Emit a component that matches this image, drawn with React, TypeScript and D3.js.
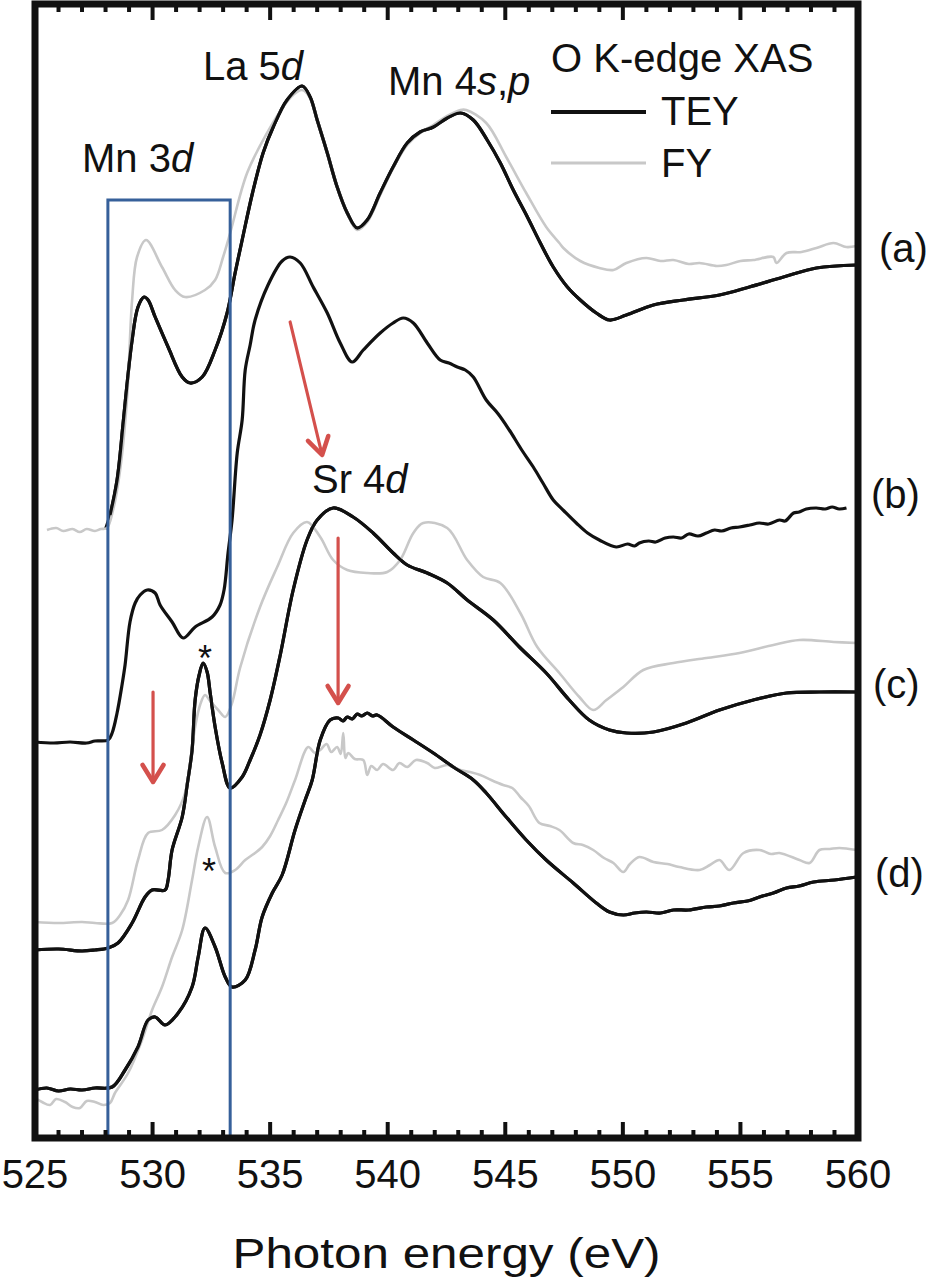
import React from "react";
import * as d3 from "d3";

// ---- Data: photon energy (eV) vs. offset intensity (arb. units) ----
const aTEY: [number, number][] = [
  [528.0, 6.09], [528.19, 6.23], [528.49, 6.58],
  [528.74, 7.13], [528.91, 7.53], [529.13, 7.98], [529.38, 8.31], [529.64, 8.41], [529.81, 8.38], [530.11, 8.21],
  [530.66, 7.91], [531.26, 7.61], [531.6, 7.55], [532.11, 7.61], [532.66, 7.88], [533.17, 8.25], [533.51, 8.65],
  [533.81, 8.98], [534.25, 9.45], [534.7, 9.85], [535.13, 10.11], [535.72, 10.38], [536.36, 10.52], [536.7, 10.41],
  [537.0, 10.18], [537.43, 9.85], [537.85, 9.51], [538.28, 9.25], [538.7, 9.1], [539.13, 9.18], [539.68, 9.45],
  [540.23, 9.71], [540.83, 9.95], [541.38, 10.06], [541.94, 10.11], [542.53, 10.2], [543.09, 10.25], [543.64, 10.18],
  [544.23, 9.98], [544.79, 9.75], [545.34, 9.48], [545.94, 9.21], [546.49, 8.95], [547.04, 8.71], [547.64, 8.51],
  [548.19, 8.38], [548.87, 8.25], [549.43, 8.18], [550.15, 8.23], [551.3, 8.33], [552.57, 8.38], [554.11, 8.43],
  [555.38, 8.51], [556.83, 8.61], [558.23, 8.7], [559.94, 8.73],
];
const aFY: [number, number][] = [
  [525.51, 6.08], [525.9, 6.1], [526.2, 6.07], [526.6, 6.09], [526.9, 6.06], [527.2, 6.09], [527.55, 6.07],
  [527.8, 6.09], [528.06, 6.1], [528.32, 6.28], [528.62, 6.68],
  [528.91, 7.38], [529.13, 8.38], [529.34, 8.81], [529.72, 8.98], [530.4, 8.71], [530.96, 8.48], [531.38, 8.41],
  [532.23, 8.48], [532.66, 8.58], [533.0, 8.81], [533.3, 9.05], [534.02, 9.65], [534.87, 10.05], [535.55, 10.31],
  [535.98, 10.43], [536.36, 10.48], [536.7, 10.4], [537.0, 10.18], [537.43, 9.85], [537.85, 9.51], [538.28, 9.25],
  [538.7, 9.08], [539.13, 9.16], [539.68, 9.43], [540.23, 9.7], [540.83, 9.93], [541.38, 10.05], [541.94, 10.13],
  [542.53, 10.22], [543.09, 10.28], [543.34, 10.28], [544.19, 10.15], [545.04, 9.81], [545.89, 9.45], [546.74, 9.11],
  [547.3, 8.95], [547.47, 8.9], [548.19, 8.77], [549.0, 8.7], [549.6, 8.68], [550.15, 8.75], [551.0, 8.8],
  [551.6, 8.77], [552.15, 8.78], [552.8, 8.74], [553.26, 8.75], [554.0, 8.72], [554.4, 8.73], [555.0, 8.77],
  [555.55, 8.78], [556.4, 8.81], [556.53, 8.75], [556.96, 8.85], [557.6, 8.86], [558.23, 8.9], [558.96, 8.95],
  [559.5, 8.91], [559.94, 8.92],
];
const bTEY: [number, number][] = [
  [525.0, 3.96], [525.8, 3.95], [526.49, 3.96], [527.2, 3.95], [527.55, 3.97], [528.11, 3.98], [528.28, 4.05],
  [528.49, 4.25], [528.7, 4.53], [528.83, 4.73], [529.04, 5.16], [529.26, 5.35], [529.47, 5.43], [529.77, 5.48],
  [530.11, 5.45], [530.32, 5.33], [530.83, 5.16], [531.3, 5.0], [531.81, 5.11], [532.53, 5.21], [532.87, 5.33],
  [533.04, 5.48], [533.21, 5.85], [533.38, 6.18], [533.6, 6.85], [533.81, 7.18], [533.94, 7.68], [534.15, 7.93],
  [534.36, 8.18], [534.91, 8.53], [535.51, 8.77], [535.85, 8.81], [536.28, 8.75], [536.83, 8.51], [537.43, 8.25],
  [537.98, 7.95], [538.49, 7.76], [538.96, 7.88], [539.68, 8.05], [540.23, 8.15], [540.66, 8.2], [541.09, 8.15],
  [541.68, 7.95], [542.23, 7.78], [542.6, 7.75], [542.96, 7.71], [543.3, 7.68], [543.64, 7.61], [544.19, 7.38],
  [544.7, 7.24], [545.17, 7.08], [545.7, 6.88], [546.19, 6.71], [546.6, 6.55], [547.04, 6.38], [547.5, 6.27],
  [548.02, 6.15], [548.5, 6.05], [549.0, 5.98], [549.72, 5.91], [550.2, 5.94], [550.5, 5.92], [550.7, 5.95],
  [551.1, 5.97], [551.4, 5.96], [551.8, 6.0], [552.15, 6.01], [552.5, 6.0], [552.8, 6.04], [553.2, 6.02],
  [553.55, 6.05], [553.9, 6.08], [554.2, 6.07], [554.6, 6.1], [554.96, 6.11], [555.4, 6.13], [555.8, 6.15],
  [556.2, 6.14], [556.66, 6.18], [556.9, 6.17], [557.26, 6.25], [557.5, 6.26], [557.8, 6.29], [558.23, 6.3],
  [558.6, 6.29], [558.9, 6.31], [559.2, 6.29], [559.51, 6.3],
];
const cTEY: [number, number][] = [
  [525.0, 1.88], [526.0, 1.89], [527.0, 1.87], [527.55, 1.88], [528.11, 1.9], [528.53, 1.95], [529.13, 2.15],
  [529.68, 2.41], [529.98, 2.48], [530.53, 2.48], [530.66, 2.58], [530.83, 2.88], [531.26, 3.21], [531.47, 3.53],
  [531.68, 3.88], [531.81, 4.38], [531.98, 4.63], [532.15, 4.75], [532.32, 4.66], [532.45, 4.45], [532.66, 4.11],
  [532.96, 3.75], [533.3, 3.5], [533.81, 3.61], [534.15, 3.78], [534.57, 4.03], [535.0, 4.38], [535.43, 4.83],
  [535.98, 5.48], [536.57, 5.98], [537.0, 6.18], [537.68, 6.3], [538.53, 6.21], [539.38, 6.05], [540.23, 5.85],
  [540.83, 5.73], [541.68, 5.65], [542.53, 5.55], [543.38, 5.38], [544.49, 5.18], [545.6, 4.91], [546.74, 4.65],
  [547.72, 4.38], [548.57, 4.18], [549.43, 4.08], [550.15, 4.05], [551.3, 4.06], [552.7, 4.15], [554.11, 4.28],
  [555.55, 4.38], [556.96, 4.45], [558.36, 4.46], [559.94, 4.46],
];
const cFY: [number, number][] = [
  [525.0, 2.16], [526.0, 2.15], [527.0, 2.16], [527.55, 2.15], [528.28, 2.15], [528.62, 2.23], [528.96, 2.38],
  [529.38, 2.78], [529.81, 3.05], [530.4, 3.08], [530.96, 3.23], [531.38, 3.45], [531.81, 4.11], [532.02, 4.33],
  [532.23, 4.43], [532.45, 4.37], [532.79, 4.28], [533.09, 4.21], [533.38, 4.35], [533.72, 4.7], [534.57, 5.31],
  [535.3, 5.71], [535.98, 6.05], [536.57, 6.16], [537.13, 6.01], [537.68, 5.78], [538.28, 5.68], [539.13, 5.65],
  [539.98, 5.66], [540.53, 5.78], [541.09, 6.05], [541.51, 6.15], [542.53, 6.1], [543.38, 5.78], [544.06, 5.61],
  [544.79, 5.55], [545.64, 5.25], [546.36, 4.91], [547.3, 4.65], [548.15, 4.41], [548.74, 4.28], [549.3, 4.38],
  [550.02, 4.51], [550.87, 4.68], [552.15, 4.75], [553.55, 4.8], [554.96, 4.85], [556.4, 4.93], [557.51, 4.98],
  [558.96, 4.96], [559.94, 4.95],
];
const dTEY: [number, number][] = [
  [525.0, 0.48], [525.5, 0.5], [526.0, 0.47], [526.5, 0.49], [527.0, 0.48], [527.55, 0.5], [528.28, 0.51],
  [528.83, 0.68], [529.38, 0.91], [529.81, 1.18], [530.11, 1.21], [530.53, 1.13], [531.09, 1.25], [531.68, 1.51],
  [531.94, 1.81], [532.23, 2.1], [532.66, 1.91], [533.09, 1.61], [533.38, 1.51], [533.94, 1.58], [534.36, 1.88],
  [534.66, 2.21], [535.09, 2.45], [535.51, 2.63], [536.06, 3.08], [536.49, 3.38], [536.79, 3.58], [537.13, 3.98],
  [537.55, 4.18], [537.9, 4.2], [538.1, 4.17], [538.28, 4.21], [538.5, 4.19], [538.7, 4.24], [538.9, 4.22],
  [539.13, 4.25], [539.35, 4.22], [539.55, 4.23], [540.23, 4.11],
  [541.09, 3.98], [541.94, 3.85], [542.79, 3.71], [543.64, 3.58], [544.19, 3.45], [545.04, 3.21], [545.89, 2.98],
  [546.74, 2.78], [547.89, 2.55], [548.87, 2.35], [549.43, 2.26], [550.02, 2.23], [550.5, 2.25], [551.0, 2.26],
  [551.6, 2.25], [552.15, 2.28], [552.8, 2.28], [553.55, 2.31], [554.1, 2.32], [554.7, 2.35], [555.3, 2.37],
  [555.81, 2.41], [556.4, 2.45], [556.96, 2.5], [557.5, 2.52], [558.11, 2.56], [559.0, 2.58], [559.94, 2.61],
];
const dFY: [number, number][] = [
  [525.0, 0.4], [525.3, 0.36], [525.64, 0.33], [525.9, 0.39], [526.28, 0.36], [526.6, 0.31], [526.91, 0.3],
  [527.2, 0.37], [527.55, 0.36], [527.9, 0.33], [528.19, 0.35], [528.4, 0.45], [528.96, 0.65], [529.55, 0.98],
  [529.98, 1.28], [530.4, 1.51], [530.83, 1.81], [531.26, 2.08], [531.68, 2.58], [531.94, 2.91], [532.32, 3.21],
  [532.66, 2.91], [533.09, 2.65], [533.51, 2.68], [533.94, 2.78], [534.3, 2.84], [534.66, 2.91], [535.0, 3.02],
  [535.34, 3.18], [535.7, 3.36], [536.06, 3.58], [536.62, 3.91], [536.9, 3.85], [537.13, 3.88], [537.4, 3.94],
  [537.6, 3.86], [537.85, 3.91], [538.0, 3.84], [538.11, 4.05], [538.2, 3.8], [538.32, 3.85], [538.6, 3.79],
  [538.96, 3.78], [539.13, 3.63], [539.3, 3.72], [539.55, 3.68], [539.8, 3.74], [540.23, 3.68], [540.5, 3.75],
  [540.83, 3.71], [541.2, 3.78], [541.68, 3.75], [542.0, 3.7], [542.53, 3.73], [543.09, 3.68], [543.5, 3.66],
  [543.94, 3.63], [544.4, 3.58], [544.91, 3.53], [545.3, 3.5], [545.64, 3.41], [546.0, 3.32], [546.45, 3.15],
  [546.9, 3.12], [547.3, 3.08], [547.89, 2.95], [548.3, 2.93], [548.74, 2.88], [549.2, 2.8], [549.6, 2.75],
  [550.02, 2.66], [550.3, 2.74], [550.7, 2.81], [551.3, 2.76], [551.9, 2.74], [552.4, 2.71], [553.26, 2.68],
  [553.7, 2.73], [554.11, 2.78], [554.53, 2.68], [555.13, 2.85], [555.81, 2.88], [556.3, 2.84], [556.66, 2.85],
  [557.51, 2.78], [557.94, 2.75], [558.36, 2.88], [558.8, 2.89], [559.21, 2.9], [559.94, 2.88],
];

const majorTicks = [525, 530, 535, 540, 545, 550, 555, 560];
const minorTicks = d3.range(525, 561, 1);

// Mn 3d box (energy range and top intensity)
const boxE: [number, number] = [528.1, 533.3];
const boxTop = 9.38;

// red arrows: [E1, I1, E2, I2]
const arrows: [number, number, number, number][] = [
  [535.85, 8.16, 537.21, 6.83],
  [537.89, 6.0, 537.89, 4.35],
  [530.02, 4.46, 530.02, 3.56],
];

const W = 932;
const H = 1280;
const FONT = "'Liberation Sans', Arial, Helvetica, sans-serif";

export default function App() {
  const x = d3.scaleLinear().domain([525, 560]).range([35, 858]);
  const y = d3.scaleLinear().domain([0, 11.34]).range([1138, 4]);
  const line = d3
    .line<[number, number]>()
    .x((d) => x(d[0]))
    .y((d) => y(d[1]))
    .curve(d3.curveCatmullRom.alpha(0.5));

  const gray = "#c8c8c8";
  const black = "#111";
  const red = "#d4504c";
  const blue = "#36609a";

  const y0 = y(0);
  const yTop = y(11.34);

  const arrowEls = arrows.map((a, i) => {
    const x1 = x(a[0]), y1 = y(a[1]), x2 = x(a[2]), y2 = y(a[3]);
    const ang = Math.atan2(y2 - y1, x2 - x1);
    const hl = 20, hw = 0.55;
    const p1 = [x2 - hl * Math.cos(ang - hw), y2 - hl * Math.sin(ang - hw)];
    const p2 = [x2 - hl * Math.cos(ang + hw), y2 - hl * Math.sin(ang + hw)];
    return (
      <g key={i} stroke={red} fill="none" strokeLinecap="round" strokeLinejoin="round">
        <line x1={x1} y1={y1} x2={x2} y2={y2} strokeWidth={3.2} />
        <polyline points={`${p1[0]},${p1[1]} ${x2},${y2} ${p2[0]},${p2[1]}`} strokeWidth={4.5} />
      </g>
    );
  });

  const textStyle = { fontFamily: FONT, fill: "#111" } as const;

  return (
    <svg
      width={W}
      height={H}
      viewBox={`0 0 ${W} ${H}`}
      style={{ position: "absolute", left: 0, top: 0, background: "#fff" }}
    >
      <rect x={0} y={0} width={W} height={H} fill="#fff" />

      {/* TEY curves (black) */}
      {[aTEY, bTEY, cTEY, dTEY].map((d, i) => (
        <path key={"tey" + i} d={line(d) || ""} fill="none" stroke={black} strokeWidth={3.2} strokeLinejoin="round" />
      ))}
      {/* FY curves (gray) */}
      {[cFY, dFY].map((d, i) => (
        <path key={"fy" + i} d={line(d) || ""} fill="none" stroke={gray} strokeWidth={2.6} strokeLinejoin="round" />
      ))}
      {/* (a) FY drawn before TEY visually where they coincide: redraw TEY over it */}
      <path d={line(aFY) || ""} fill="none" stroke={gray} strokeWidth={2.6} strokeLinejoin="round" />
      <path d={line(aTEY.slice(1)) || ""} fill="none" stroke={black} strokeWidth={3.2} strokeLinejoin="round" />
      {[cTEY, dTEY].map((d, i) => (
        <path key={"tey2" + i} d={line(d) || ""} fill="none" stroke={black} strokeWidth={3.2} strokeLinejoin="round" />
      ))}

      {/* Mn 3d box */}
      <rect
        x={x(boxE[0])}
        y={y(boxTop)}
        width={x(boxE[1]) - x(boxE[0])}
        height={y(0) - y(boxTop)}
        fill="none"
        stroke={blue}
        strokeWidth={3}
      />

      {arrowEls}

      {/* ticks top and bottom */}
      {minorTicks.map((t) => {
        const major = t % 5 === 0;
        const len = major ? 16 : 8;
        return (
          <g key={"t" + t} stroke={black} strokeWidth={4}>
            <line x1={x(t)} x2={x(t)} y1={y0} y2={y0 - len} />
            <line x1={x(t)} x2={x(t)} y1={yTop} y2={yTop + len} />
          </g>
        );
      })}

      {/* frame */}
      <rect x={x(525)} y={yTop} width={x(560) - x(525)} height={y0 - yTop} fill="none" stroke={black} strokeWidth={7} />

      {/* tick labels */}
      {majorTicks.map((t) => (
        <text key={"l" + t} x={x(t)} y={1188} textAnchor="middle" fontSize={40} style={textStyle}>
          {t}
        </text>
      ))}
      <text x={(x(525) + x(560)) / 2} y={1268} textAnchor="middle" fontSize={43} textLength={428} lengthAdjust="spacingAndGlyphs" style={textStyle}>
        Photon energy (eV)
      </text>

      {/* annotations */}
      <text x={82} y={172} fontSize={40} style={textStyle}>
        Mn 3<tspan fontStyle="italic">d</tspan>
      </text>
      <text x={203} y={80} fontSize={40} style={textStyle}>
        La 5<tspan fontStyle="italic">d</tspan>
      </text>
      <text x={388} y={95} fontSize={40} style={textStyle}>
        Mn 4<tspan fontStyle="italic">s</tspan>,<tspan fontStyle="italic">p</tspan>
      </text>
      <text x={312} y={493} fontSize={40} style={textStyle}>
        Sr 4<tspan fontStyle="italic">d</tspan>
      </text>
      <text x={205} y={671} textAnchor="middle" fontSize={36} style={textStyle}>*</text>
      <text x={209} y={884} textAnchor="middle" fontSize={36} style={textStyle}>*</text>

      {/* legend */}
      <text x={551} y={72} fontSize={40} style={textStyle}>O K-edge XAS</text>
      <line x1={551} x2={646} y1={112} y2={112} stroke={black} strokeWidth={4} />
      <text x={661} y={125} fontSize={40} style={textStyle}>TEY</text>
      <line x1={551} x2={646} y1={163} y2={163} stroke={gray} strokeWidth={3} />
      <text x={661} y={177} fontSize={40} style={textStyle}>FY</text>

      {/* curve labels */}
      <text x={879} y={262} fontSize={40} style={textStyle}>(a)</text>
      <text x={871} y={508} fontSize={40} style={textStyle}>(b)</text>
      <text x={873} y={698} fontSize={40} style={textStyle}>(c)</text>
      <text x={875} y={887} fontSize={40} style={textStyle}>(d)</text>
    </svg>
  );
}
